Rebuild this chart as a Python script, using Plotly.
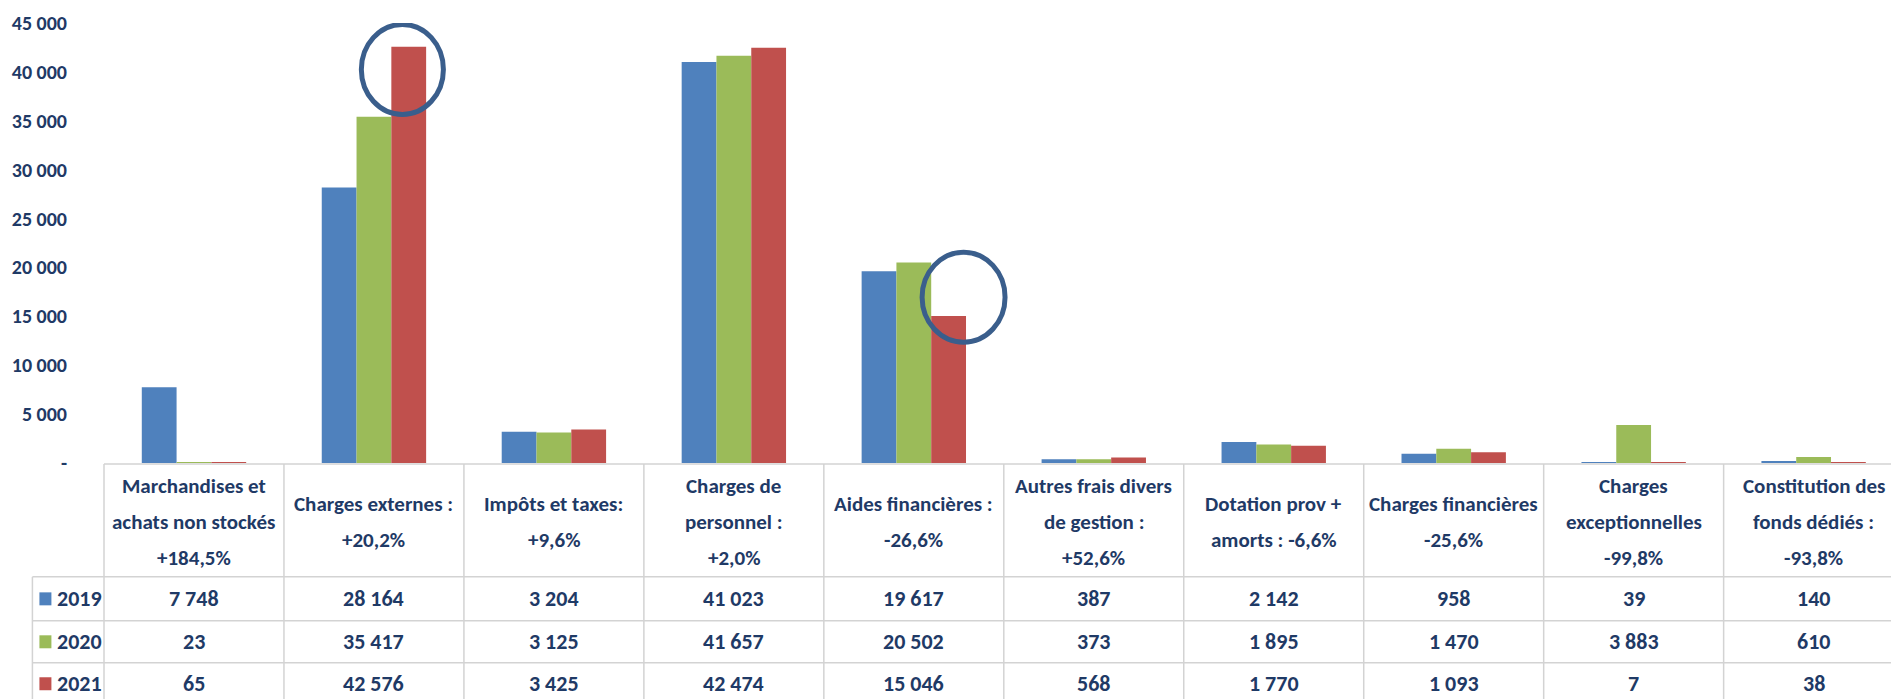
import plotly.graph_objects as go

# ---------------- data ----------------
categories = [
    ["Marchandises et", "achats non stockés", "+184,5%"],
    ["Charges externes :", "+20,2%"],
    ["Impôts et taxes:", "+9,6%"],
    ["Charges de", "personnel :", "+2,0%"],
    ["Aides financières :", "-26,6%"],
    ["Autres frais divers", "de gestion :", "+52,6%"],
    ["Dotation prov +", "amorts : -6,6%"],
    ["Charges financières", "-25,6%"],
    ["Charges", "exceptionnelles", "-99,8%"],
    ["Constitution des", "fonds dédiés :", "-93,8%"],
]
years = ["2019", "2020", "2021"]
values_2019 = [7748, 28164, 3204, 41023, 19617, 387, 2142, 958, 39, 140]
values_2020 = [23, 35417, 3125, 41657, 20502, 373, 1895, 1470, 3883, 610]
values_2021 = [65, 42576, 3425, 42474, 15046, 568, 1770, 1093, 7, 38]
colors = ["#4F81BD", "#9BBB59", "#C0504D"]
y_tickvals = [0, 5000, 10000, 15000, 20000, 25000, 30000, 35000, 40000, 45000]
y_ticktext = ["-", "5 000", "10 000", "15 000", "20 000", "25 000",
              "30 000", "35 000", "40 000", "45 000"]
# highlighted bars (category index, value range of ellipse)
highlights = [
    {"x0": 0.93, "x1": 1.386, "y0": 35650, "y1": 44850},
    {"x0": 4.046, "x1": 4.507, "y0": 12360, "y1": 21555},
]

series = [values_2019, values_2020, values_2021]

# ---------------- layout geometry (pixels) ----------------
WIDTH, HEIGHT = 1891, 699
L = 103.6          # left edge of plot / table
COL = 180.0        # column width
T = 22.5           # top of plot
B = 463.0          # baseline
PH = B - T
PW = WIDTH - L
x_max = -0.5 + PW / COL

TXT = "#1F3A66"
GRID = "#D3D3D3"
FONT = "Carlito, Lato, sans-serif"
FS = 21


def xp(px):
    return (px - L) / PW


def yp(py):
    return (B - py) / PH


fig = go.Figure()
idx = list(range(len(categories)))
for name, vals, col in zip(years, series, colors):
    fig.add_trace(go.Bar(x=idx, y=vals, name=name, marker=dict(color=col, line=dict(width=0))))

shapes = []
annotations = []

# table grid
line = dict(color=GRID, width=1.5)
shapes.append(dict(type="line", xref="paper", yref="paper", x0=xp(L), x1=1.02, y0=yp(464), y1=yp(464), line=line))
for py in [577, 621, 663, 705]:
    shapes.append(dict(type="line", xref="paper", yref="paper", x0=xp(32), x1=1.02, y0=yp(py), y1=yp(py), line=line))
shapes.append(dict(type="line", xref="paper", yref="paper", x0=xp(32), x1=xp(32), y0=yp(577), y1=yp(710), line=line))
for k in range(len(categories) + 1):
    px = L + COL * k
    shapes.append(dict(type="line", xref="paper", yref="paper", x0=xp(px), x1=xp(px), y0=yp(464), y1=yp(710), line=line))

# header texts
LS = 36
HC = 522.5
for k, lines in enumerate(categories):
    cx = L + COL * (k + 0.5)
    n = len(lines)
    for j, t in enumerate(lines):
        py = HC + (j - (n - 1) / 2) * LS
        annotations.append(dict(xref="paper", yref="paper", x=xp(cx), y=yp(py), text=t, showarrow=False,
                                xanchor="center", yanchor="middle",
                                font=dict(family=FONT, size=FS, color=TXT, weight="bold")))

# value rows
row_centers = [599, 642, 684]
for r, (name, vals, col) in enumerate(zip(years, series, colors)):
    py = row_centers[r]
    shapes.append(dict(type="rect", xref="paper", yref="paper", x0=xp(39), x1=xp(51),
                       y0=yp(py - 6.5), y1=yp(py + 6.5), fillcolor=col, line=dict(width=0)))
    annotations.append(dict(xref="paper", yref="paper", x=xp(55), y=yp(py), text=name, showarrow=False,
                            xanchor="left", yanchor="middle",
                            font=dict(family=FONT, size=FS + 1, color=TXT, weight="bold")))
    for k, v in enumerate(vals):
        cx = L + COL * (k + 0.5)
        annotations.append(dict(xref="paper", yref="paper", x=xp(cx), y=yp(py),
                                text=f"{v:,}".replace(",", " "), showarrow=False,
                                xanchor="center", yanchor="middle",
                                font=dict(family=FONT, size=FS + 1, color=TXT, weight="bold")))

# highlight ellipses
for h in highlights:
    shapes.append(dict(type="circle", xref="x", yref="y", x0=h["x0"], x1=h["x1"], y0=h["y0"], y1=h["y1"],
                       line=dict(color="#3A5E8C", width=5), layer="above"))

fig.update_layout(
    width=WIDTH, height=HEIGHT,
    margin=dict(l=L, r=0, t=T, b=HEIGHT - B, pad=0),
    paper_bgcolor="white", plot_bgcolor="white",
    barmode="group", bargap=0.42, bargroupgap=0,
    showlegend=False,
    xaxis=dict(range=[-0.5, x_max], showticklabels=False, showgrid=False, zeroline=False,
               showline=False, ticks=""),
    yaxis=dict(range=[0, 45000], tickvals=y_tickvals, ticktext=y_ticktext, showgrid=False,
               zeroline=False, showline=False, ticks="", ticklabelstandoff=36,
               tickfont=dict(family=FONT, size=20, color=TXT, weight="bold")),
    shapes=shapes,
    annotations=annotations,
)

fig.write_html("out.html", config={"displayModeBar": False},
               post_script="document.body.style.margin='0';document.body.style.overflow='hidden';")
